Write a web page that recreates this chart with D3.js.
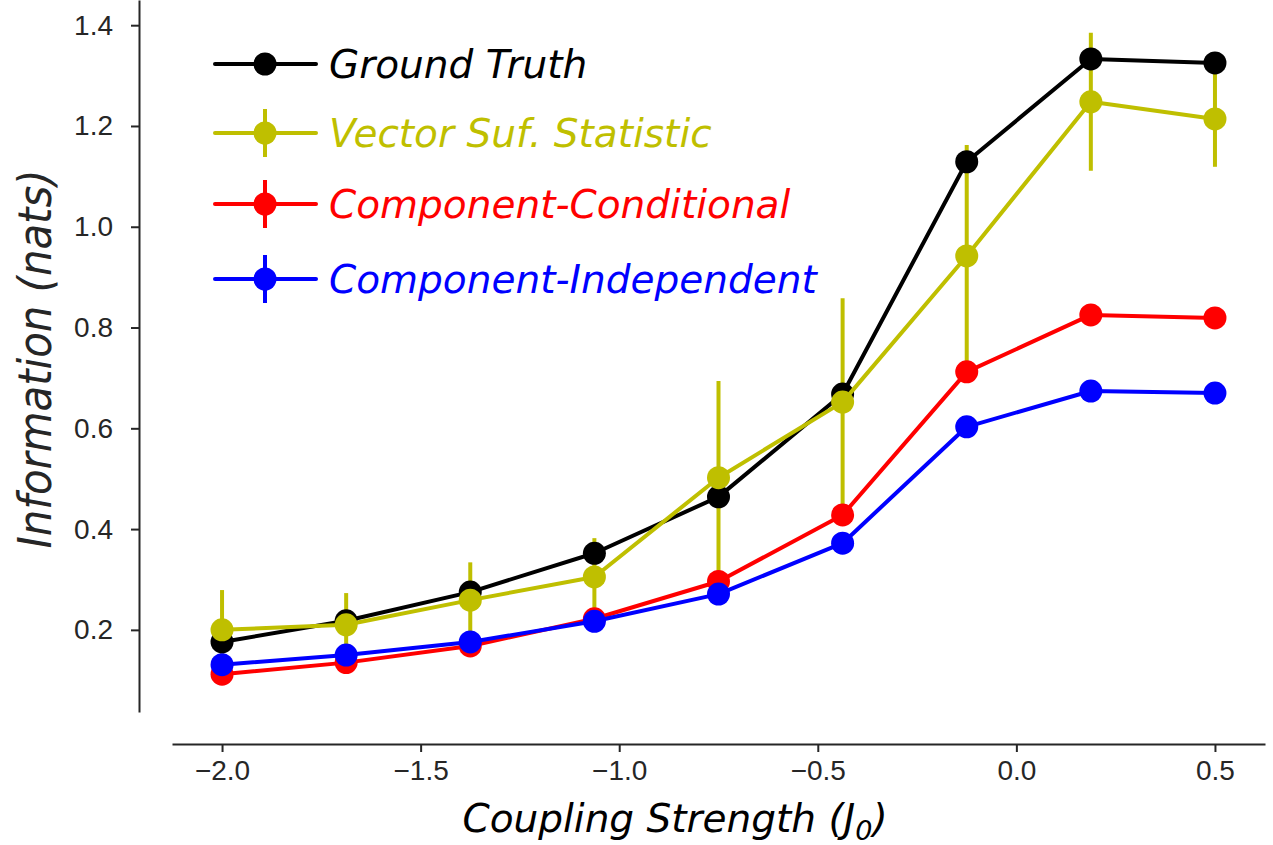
<!DOCTYPE html>
<html><head><meta charset="utf-8">
<script src="https://cdn.jsdelivr.net/npm/d3@7"></script>
<style>
html,body{margin:0;padding:0;background:#fff;}
svg{display:block;}
</style></head>
<body>
<svg id="chart" width="1273" height="845"></svg>
<script>
// ---- data ----
const couplings = [-2.0, -1.6875, -1.375, -1.0625, -0.75, -0.4375, -0.125, 0.1875, 0.5];
const groundTruth = [0.176, 0.218, 0.275, 0.352, 0.464, 0.668, 1.129, 1.333, 1.325];
const vectorSuf = [0.200, 0.210, 0.259, 0.305, 0.502, 0.652, 0.942, 1.248, 1.214];
const vectorErrUp = [0.079, 0.063, 0.075, 0.077, 0.192, 0.206, 0.220, 0.137, 0.095];
const vectorErrDown = [0.079, 0.063, 0.075, 0.077, 0.192, 0.245, 0.220, 0.137, 0.095];
const compCond = [0.112, 0.135, 0.168, 0.222, 0.296, 0.428, 0.712, 0.825, 0.819];
const compCondErr = [0.008, 0.008, 0.008, 0.008, 0.010, 0.012, 0.012, 0.008, 0.008];
const compIndep = [0.131, 0.150, 0.176, 0.217, 0.271, 0.372, 0.603, 0.674, 0.670];
const compIndepErr = [0.006, 0.006, 0.006, 0.006, 0.008, 0.008, 0.010, 0.006, 0.006];
const xTicks = [-2.0, -1.5, -1.0, -0.5, 0.0, 0.5];
const yTicks = [0.2, 0.4, 0.6, 0.8, 1.0, 1.2, 1.4];
const seriesNames = ["Ground Truth", "Vector Suf. Statistic", "Component-Conditional", "Component-Independent"];
const seriesColors = ["#000000", "#bfbf00", "#ff0000", "#0000ff"];

const svg = d3.select("#chart");
const x = d3.scaleLinear().domain([-2.126, 0.626]).range([172, 1265]);
const y = d3.scaleLinear().domain([0.037, 1.45]).range([712, 0]);

const axisColor = "#262626";
const tickFont = "Liberation Sans, Arial, sans-serif";
const labelFont = "DejaVu Sans, sans-serif";

// y axis
const gy = svg.append("g").attr("transform", "translate(139,0)")
  .call(d3.axisLeft(y).tickValues(yTicks).tickFormat(d3.format(".1f")).tickSize(8).tickPadding(18).tickSizeOuter(0));
// x axis
const gx = svg.append("g").attr("transform", "translate(0,744)")
  .call(d3.axisBottom(x).tickValues(xTicks).tickFormat(d3.format(".1f")).tickSize(8).tickPadding(8).tickSizeOuter(0));
[gx, gy].forEach(g => {
  g.select(".domain").attr("stroke", axisColor).attr("stroke-width", 2);
  g.selectAll(".tick line").attr("stroke", axisColor).attr("stroke-width", 2);
  g.selectAll(".tick text").attr("fill", axisColor).attr("font-family", tickFont).attr("font-size", 28);
});

// axis labels
svg.append("text").attr("transform", "translate(51,359) rotate(-90)")
  .attr("text-anchor", "middle").attr("font-family", "DejaVu Sans Condensed, DejaVu Sans, sans-serif")
  .attr("font-stretch", "condensed").attr("font-style", "italic")
  .attr("font-size", 46.5).attr("fill", axisColor).text("Information (nats)");
const xl = svg.append("text").attr("x", 675).attr("y", 832)
  .attr("text-anchor", "middle").attr("font-family", labelFont).attr("font-style", "italic")
  .attr("font-size", 39).attr("fill", "#000");
xl.append("tspan").text("Coupling Strength (J");
xl.append("tspan").attr("font-size", 27).attr("dy", 8).text("0");
xl.append("tspan").attr("dy", -8).text(")");

const lineGen = vals => d3.line().x((d, i) => x(couplings[i])).y(d => y(d))(vals);
const LW = 4, BW = 4, R = 11.5;

function errBars(vals, up, down, color) {
  svg.append("g").selectAll("line").data(vals).join("line")
    .attr("x1", (d, i) => x(couplings[i])).attr("x2", (d, i) => x(couplings[i]))
    .attr("y1", (d, i) => y(d + up[i])).attr("y2", (d, i) => y(d - down[i]))
    .attr("stroke", color).attr("stroke-width", BW);
}
function series(vals, color) {
  svg.append("path").attr("d", lineGen(vals)).attr("fill", "none")
    .attr("stroke", color).attr("stroke-width", LW).attr("stroke-linejoin", "round");
  svg.append("g").selectAll("circle").data(vals).join("circle")
    .attr("cx", (d, i) => x(couplings[i])).attr("cy", d => y(d)).attr("r", R).attr("fill", color);
}

// draw order
errBars(vectorSuf, vectorErrUp, vectorErrDown, seriesColors[1]);
series(groundTruth, seriesColors[0]);
series(vectorSuf, seriesColors[1]);
errBars(compCond, compCondErr, compCondErr, seriesColors[2]);
series(compCond, seriesColors[2]);
errBars(compIndep, compIndepErr, compIndepErr, seriesColors[3]);
series(compIndep, seriesColors[3]);

// legend
const legendY = [64, 133, 204, 279];
const lg = svg.append("g");
seriesNames.forEach((name, i) => {
  const cy = legendY[i], c = seriesColors[i];
  lg.append("line").attr("x1", 215).attr("x2", 316).attr("y1", cy).attr("y2", cy)
    .attr("stroke", c).attr("stroke-width", LW).attr("stroke-linecap", "round");
  if (i > 0) {
    lg.append("line").attr("x1", 265).attr("x2", 265).attr("y1", cy - 24).attr("y2", cy + 24)
      .attr("stroke", c).attr("stroke-width", BW);
  }
  lg.append("circle").attr("cx", 265).attr("cy", cy).attr("r", R).attr("fill", c);
  lg.append("text").attr("x", 329).attr("y", cy).attr("dy", "0.36em")
    .attr("font-family", labelFont).attr("font-style", "italic").attr("font-size", 39)
    .attr("fill", c).text(name);
});
</script>
</body></html>
